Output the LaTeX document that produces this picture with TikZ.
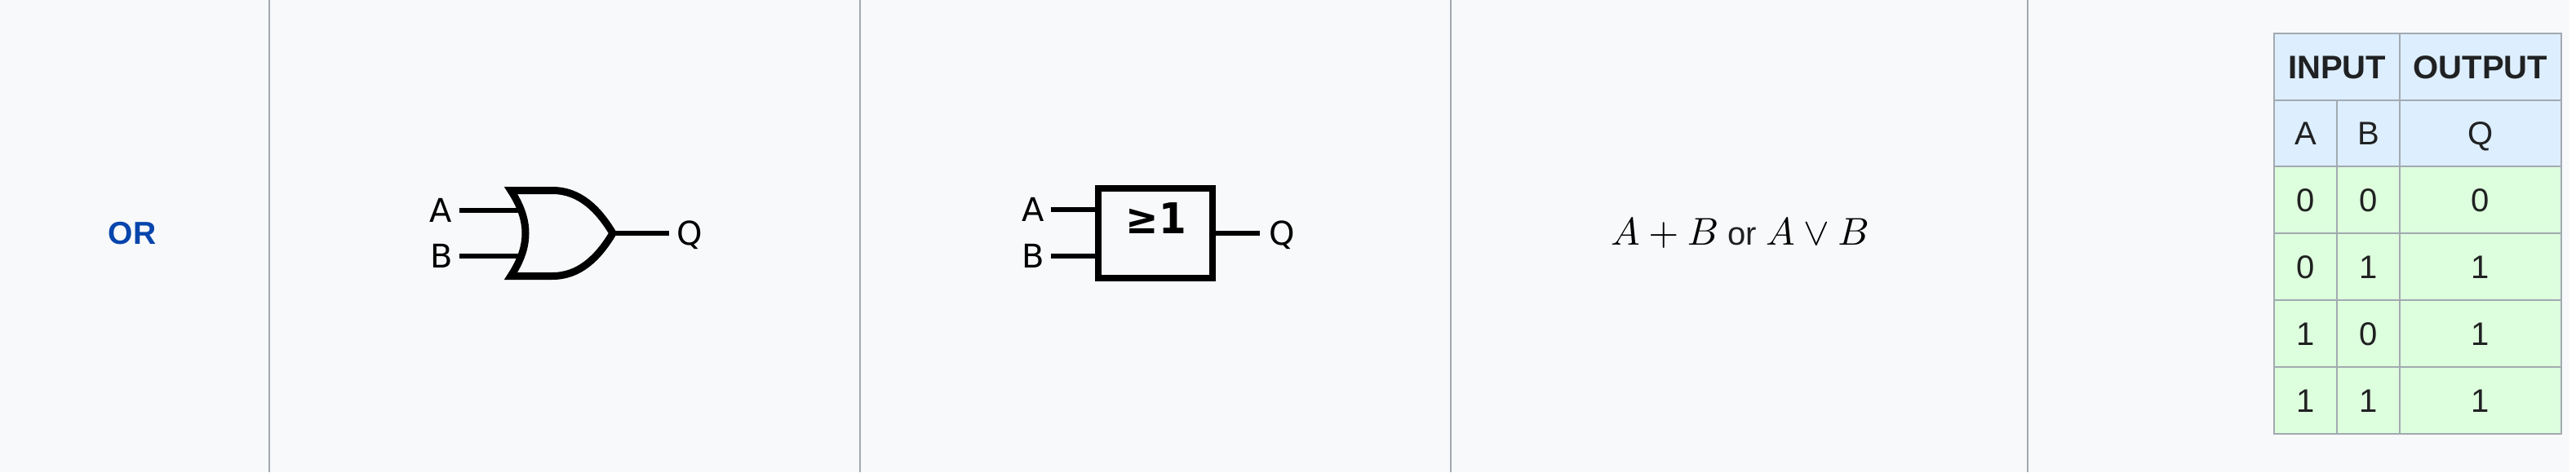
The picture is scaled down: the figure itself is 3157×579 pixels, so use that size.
\documentclass[tikz,border=0pt]{standalone}
\usepackage{graphicx}
\usepackage{fontspec}
\setmainfont{Liberation Sans}
\newfontfamily\gatefont{DejaVu Sans}
\usetikzlibrary{positioning}
\definecolor{pagebg}{HTML}{F8F9FA}
\definecolor{rulegray}{HTML}{A2A9B1}
\definecolor{inktext}{HTML}{202122}
\definecolor{headblue}{HTML}{DDEEFF}
\definecolor{cellgreen}{HTML}{DDFFDD}
\definecolor{linkblue}{HTML}{0645AD}
\newcommand{\bigmath}[1]{\scalebox{4.75}{\color{black}\fontsize{10}{12}\selectfont$#1$}}
\tikzset{
  gatelabel/.style={font=\gatefont\fontsize{40}{40}\selectfont, inner sep=0pt},
  wire/.style={line width=6pt, black},
  gateline/.style={line width=9pt, black, miter limit=10},
  cell/.style={draw=rulegray, line width=2pt, inner sep=0pt, text=inktext, text height=28pt, text depth=0pt,
    font=\fontsize{40}{40}\selectfont},
  headcell/.style={cell, fill=headblue},
  datacell/.style={cell, fill=cellgreen},
}
\begin{document}
\begin{tikzpicture}[x=1pt, y=-1pt]
    \useasboundingbox (0,0) rectangle (3157,579);
    \fill[pagebg] (0,0) rectangle (3149,579);
    \foreach \sepx in {330,1054,1778,2485}
        \draw[rulegray, line width=2pt] (\sepx,0) -- (\sepx,579);

    \node[inner sep=0pt, text=linkblue, font=\bfseries\fontsize{39}{39}\selectfont] (name) at (162,286) {OR};

    % ANSI symbol
    \coordinate (gA) at (563,258);
    \coordinate (gB) at (563,314);
    \coordinate (gAin) at (637,258);
    \coordinate (gBin) at (637,314);
    \coordinate (gQout) at (751,286);
    \coordinate (gQ) at (820,286);
    \draw[wire] (gA) -- (gAin);
    \draw[wire] (gB) -- (gBin);
    \draw[wire] (gQout) -- (gQ);
    \draw[gateline] (626,233.5) -- (677,233.5) .. controls (710,233.5) and (733,256) .. (gQout)
        .. controls (733,316) and (710,338.5) .. (677,338.5) -- (626,338.5)
        .. controls (650,302) and (650,270) .. cycle;
    \node[gatelabel] (gateA) at (540,258) {A};
    \node[gatelabel] (gateB) at (541,314) {B};
    \node[gatelabel] (gateQ) at (845,288) {Q};

    % IEC symbol
    \node[draw=black, line width=8pt, minimum width=140pt, minimum height=110pt, inner sep=0pt] (box) at (1416,286) {};
    \node[inner sep=0pt, anchor=base, font=\gatefont\bfseries\fontsize{52}{52}\selectfont] (boxsign) at (1417,286) {\scalebox{.93}[1]{≥1}};
    \coordinate (bA) at (1288,257);
    \coordinate (bB) at (1288,314);
    \coordinate (bQ) at (1544,286);
    \draw[wire] (bA) -- (box.west |- bA);
    \draw[wire] (bB) -- (box.west |- bB);
    \draw[wire] (box.east |- bQ) -- (bQ);
    \node[gatelabel] (boxA) at (1266,257) {A};
    \node[gatelabel] (boxB) at (1266,314) {B};
    \node[gatelabel] (boxQ) at (1571,288) {Q};

    \node[inner sep=0pt, anchor=base, text=inktext, font=\fontsize{40}{40}\selectfont] (formula) at (2132.5,300)
        {\bigmath{A+B} or \bigmath{A\vee B}};

    % truth table
    \node[headcell, minimum width=154pt, minimum height=82pt] (hin) at (2864,82) {\bfseries INPUT};
    \node[headcell, minimum width=198pt, minimum height=82pt] (hout) at (3040,82) {\bfseries OUTPUT};
    \node[headcell, minimum width=77pt, minimum height=81pt] (hA) at (2825.5,163.5) {A};
    \node[headcell, minimum width=77pt, minimum height=81pt] (hB) at (2902.5,163.5) {B};
    \node[headcell, minimum width=198pt, minimum height=81pt] (hQ) at (3040,163.5) {Q};
    \foreach \rowy/\va/\vb/\vq [count=\r] in {245/0/0/0, 327/0/1/1, 409/1/0/1, 491/1/1/1} {
        \node[datacell, minimum width=77pt, minimum height=82pt] (a\r) at (2825.5,\rowy) {\va};
        \node[datacell, minimum width=77pt, minimum height=82pt] (b\r) at (2902.5,\rowy) {\vb};
        \node[datacell, minimum width=198pt, minimum height=82pt] (q\r) at (3040,\rowy) {\vq};
    }
\end{tikzpicture}
\end{document}
